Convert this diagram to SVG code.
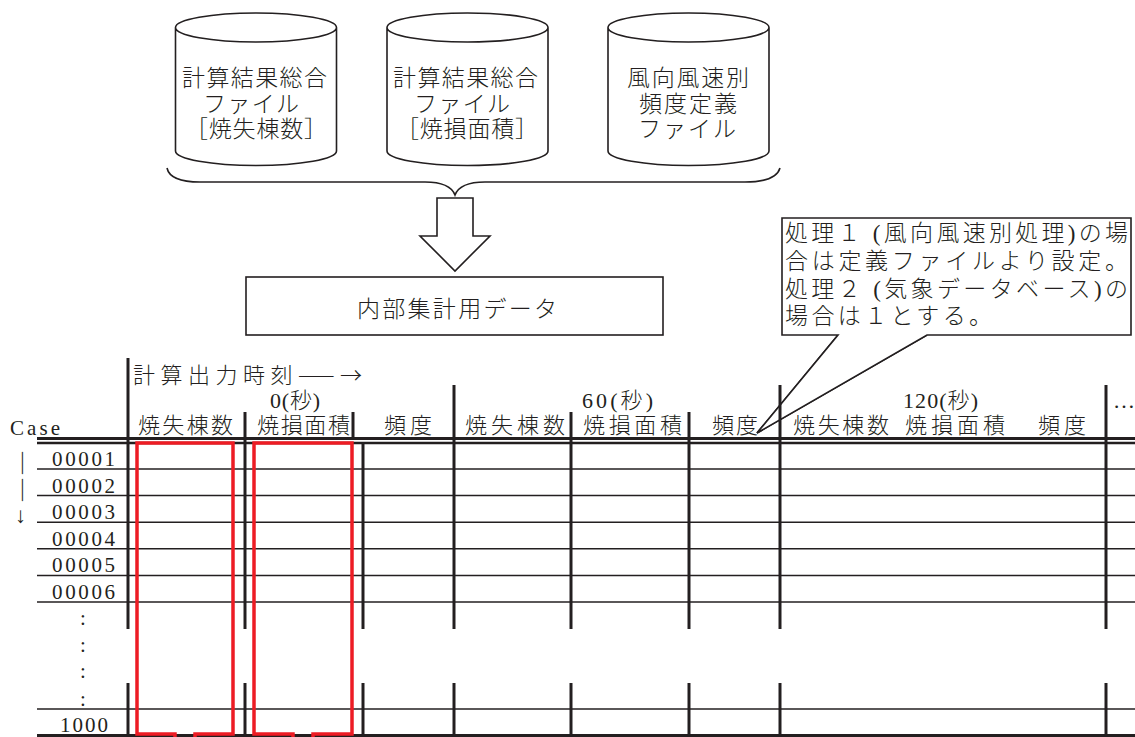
<svg xmlns="http://www.w3.org/2000/svg" width="1135" height="737" viewBox="0 0 1135 737">
<style>
.ln{stroke:#231f20;fill:none}
.sh{stroke:#231f20;stroke-width:1.6;fill:#fff}
.t{font-family:'Liberation Serif','Noto Sans CJK JP',serif;fill:#231f20;font-weight:300}
.c{font-family:'Noto Sans CJK JP','Liberation Serif',sans-serif}
.j{font-size:23px}
.h{font-size:22px}
.n{font-size:21px}
.v{stroke:#231f20;stroke-width:3}
.r{stroke:#231f20;stroke-width:1.5}
.red{stroke:#ed1c24;stroke-width:3.5;fill:none}
</style>
<defs>
<path id="cyl" d="M-80.5,27.5 A80.5,14.5 0 0 1 80.5,27.5 A80.5,14.5 0 0 1 -80.5,27.5 Z M-80.5,27.5 L-80.5,151 A80.5,14.5 0 0 0 80.5,151 L80.5,27.5"/>
</defs>
<rect width="1135" height="737" fill="#fff"/>

<g id="cyl1">
<use href="#cyl" x="256" class="sh"/>
<text class="t j" x="182" y="86" textLength="145">計算結果総合</text>
<text class="t j" x="203" y="112" textLength="96">ファイル</text>
<text class="t j" x="185" y="137" textLength="142">［焼失棟数］</text>
</g>
<g id="cyl2">
<use href="#cyl" x="467.5" class="sh"/>
<text class="t j" x="393" y="86" textLength="145">計算結果総合</text>
<text class="t j" x="414" y="112" textLength="96">ファイル</text>
<text class="t j" x="396" y="137" textLength="142">［焼損面積］</text>
</g>
<g id="cyl3">
<use href="#cyl" x="688.5" class="sh"/>
<text class="t j" x="627" y="86" textLength="122">風向風速別</text>
<text class="t j" x="639" y="112" textLength="98">頻度定義</text>
<text class="t j" x="638" y="137" textLength="98">ファイル</text>
</g>

<g id="connectors">
<path class="ln" stroke-width="1.6" d="M167,168 Q170,182 200,182 L425,182 Q450,182 455,195 Q460,182 485,182 L745,182 Q776,182 780,168"/>
<polygon class="sh" points="437,198 473,198 473,236 490,236 455,271 420,236 437,236"/>
<path class="ln" stroke-width="1.6" d="M838,335 L757,433 L927,335"/>
</g>

<g id="data">
<rect x="246" y="277" width="417" height="58" class="sh"/>
<text class="t j" x="357" y="317" textLength="200">内部集計用データ</text>
</g>

<g id="note">
<path class="sh" stroke-width="2" d="M782,218 L1131,218 L1131,335 L927,335 L757,433 L838,335 L782,335 Z"/>
<text class="t j" x="785" y="241" textLength="343">処理１ (風向風速別処理)の場</text>
<text class="t j" x="785" y="269" textLength="343">合は定義ファイルより設定。</text>
<text class="t j" x="785" y="297" textLength="343">処理２ (気象データベース)の</text>
<text class="t j" x="785" y="324" letter-spacing="3.4">場合は１とする。</text>
</g>

<g id="table">
<g class="r">
<line x1="37" y1="469" x2="1135" y2="469"/>
<line x1="37" y1="495.6" x2="1135" y2="495.6"/>
<line x1="37" y1="522.2" x2="1135" y2="522.2"/>
<line x1="37" y1="548.8" x2="1135" y2="548.8"/>
<line x1="37" y1="575.4" x2="1135" y2="575.4"/>
<line x1="37" y1="602" x2="1135" y2="602"/>
<line x1="37" y1="709" x2="1135" y2="709"/>
</g>
<line x1="37" y1="438.5" x2="1135" y2="438.5" class="ln" stroke-width="3"/>
<line x1="37" y1="443" x2="1135" y2="443" class="ln" stroke-width="2.5"/>
<line x1="37" y1="735.5" x2="1135" y2="735.5" class="ln" stroke-width="3"/>
<g class="v">
<line x1="128" y1="358" x2="128" y2="629"/><line x1="128" y1="683" x2="128" y2="737"/>
<line x1="245" y1="412" x2="245" y2="629"/><line x1="245" y1="683" x2="245" y2="737"/>
<line x1="353" y1="412" x2="353" y2="438"/>
<line x1="363" y1="443" x2="363" y2="629"/><line x1="363" y1="683" x2="363" y2="737"/>
<line x1="454" y1="385" x2="454" y2="629"/><line x1="454" y1="683" x2="454" y2="737"/>
<line x1="571" y1="412" x2="571" y2="629"/><line x1="571" y1="683" x2="571" y2="737"/>
<line x1="689" y1="412" x2="689" y2="629"/><line x1="689" y1="683" x2="689" y2="737"/>
<line x1="780" y1="385" x2="780" y2="629"/><line x1="780" y1="683" x2="780" y2="737"/>
<line x1="1106" y1="385" x2="1106" y2="629"/><line x1="1106" y1="683" x2="1106" y2="737"/>
</g>

<text class="t c h" x="133" y="383" textLength="229">計算出力時刻——→</text>
<text class="t h" x="270" y="408" textLength="50">0(秒)</text>
<text class="t h" x="582" y="408" textLength="71">60(秒)</text>
<text class="t h" x="903" y="408" textLength="75">120(秒)</text>
<text class="t h" x="1113" y="408">…</text>

<text class="t n" x="10" y="435" textLength="50">Case</text>
<text class="t h" x="138" y="433" textLength="95">焼失棟数</text>
<text class="t h" x="257" y="433" textLength="93">焼損面積</text>
<text class="t h" x="384" y="433" textLength="48">頻度</text>
<text class="t h" x="465" y="433" textLength="100">焼失棟数</text>
<text class="t h" x="583" y="433" textLength="99">焼損面積</text>
<text class="t h" x="712" y="433" textLength="46">頻度</text>
<text class="t h" x="793" y="433" textLength="96">焼失棟数</text>
<text class="t h" x="905" y="433" textLength="100">焼損面積</text>
<text class="t h" x="1038" y="433" textLength="48">頻度</text>

<text class="t h" transform="translate(17,452) rotate(90)" textLength="76">——→</text>

<text class="t n" x="52" y="466" textLength="63">00001</text>
<text class="t n" x="52" y="492.6" textLength="63">00002</text>
<text class="t n" x="52" y="519.2" textLength="63">00003</text>
<text class="t n" x="52" y="545.8" textLength="63">00004</text>
<text class="t n" x="52" y="572.4" textLength="63">00005</text>
<text class="t n" x="52" y="599" textLength="63">00006</text>
<text class="t n" x="83" y="625" text-anchor="middle">:</text>
<text class="t n" x="83" y="652" text-anchor="middle">:</text>
<text class="t n" x="83" y="678" text-anchor="middle">:</text>
<text class="t n" x="83" y="706" text-anchor="middle">:</text>
<text class="t n" x="60" y="731.5" textLength="48">1000</text>

<path class="red" d="M175,737 L175,734 L137,734 L137,443 L233,443 L233,734 L195,734 L195,737"/>
<path class="red" d="M293,737 L293,734 L254,734 L254,443 L352,443 L352,734 L313,734 L313,737"/>
</g>
</svg>
